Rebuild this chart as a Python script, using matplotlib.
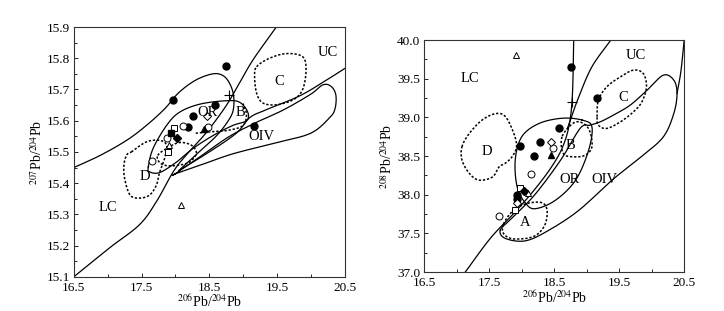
import numpy as np
import matplotlib
matplotlib.use("Agg")
import matplotlib.pyplot as plt
from matplotlib.ticker import MultipleLocator

plt.rcParams["font.family"] = ["Liberation Serif", "DejaVu Serif"]
plt.rcParams["mathtext.fontset"] = "stix"

# ---- left panel: 207Pb/204Pb vs 206Pb/204Pb ----
L_upper = [(16.5, 15.45), (16.9, 15.49), (17.3, 15.54), (17.6, 15.59), (17.85, 15.64),
           (18.05, 15.69), (18.3, 15.73), (18.55, 15.75), (18.7, 15.745), (18.8, 15.72),
           (18.86, 15.68), (18.85, 15.63), (18.75, 15.59), (18.6, 15.55), (18.4, 15.51),
           (18.2, 15.47), (18.05, 15.44)]
L_lower = [(16.5, 15.1), (17.03, 15.193), (17.47, 15.267), (17.72, 15.341), (17.97, 15.437),
           (18.16, 15.49), (18.46, 15.563), (18.75, 15.648), (18.95, 15.722), (19.15, 15.796),
           (19.49, 15.9)]
L_uc = [(18.05, 15.44), (18.5, 15.5), (18.9, 15.56), (19.1, 15.61), (19.34, 15.635),
        (19.84, 15.68), (20.23, 15.73), (20.5, 15.767)]
L_oiv = [(18.0, 15.43), (18.36, 15.457), (18.85, 15.494), (19.5, 15.53), (20.0, 15.56),
         (20.28, 15.61), (20.36, 15.64), (20.37, 15.683), (20.3, 15.71), (20.18, 15.715),
         (20.0, 15.685), (19.6, 15.635), (19.2, 15.595), (18.8, 15.55), (18.4, 15.49),
         (18.0, 15.43)]
L_or = [(17.60, 15.452), (17.67, 15.511), (17.87, 15.585), (18.06, 15.627), (18.36, 15.653),
        (18.75, 15.664), (18.95, 15.659), (19.07, 15.627), (19.05, 15.60), (18.85, 15.585),
        (18.56, 15.553), (18.26, 15.511), (18.02, 15.468), (17.77, 15.434), (17.62, 15.436)]
L_D = [(17.35, 15.50), (17.57, 15.532), (17.77, 15.537), (17.87, 15.521), (17.84, 15.479),
       (17.77, 15.437), (17.72, 15.394), (17.62, 15.362), (17.47, 15.352), (17.33, 15.362),
       (17.25, 15.415), (17.24, 15.458), (17.28, 15.49)]
L_A = [(17.74, 15.489), (17.87, 15.511), (18.06, 15.530), (18.24, 15.521), (18.31, 15.495),
       (18.21, 15.468), (18.06, 15.458), (17.87, 15.456), (17.76, 15.468)]
L_C = [(19.20, 15.773), (19.39, 15.80), (19.64, 15.815), (19.88, 15.805), (19.93, 15.762),
       (19.88, 15.70), (19.74, 15.667), (19.49, 15.651), (19.29, 15.657), (19.2, 15.688),
       (19.17, 15.741)]
L_B = [(18.3, 15.56), (18.55, 15.565), (18.8, 15.57), (19.0, 15.585), (19.05, 15.62),
       (19.0, 15.655)]

L_labels = [("UC", 20.25, 15.82), ("C", 19.54, 15.727), ("B", 18.96, 15.627),
            ("OR", 18.48, 15.627), ("OIV", 19.27, 15.548), ("D", 17.55, 15.42),
            ("LC", 17.0, 15.322)]

L_fcirc_x = [17.97, 18.75, 18.58, 18.26, 18.18, 19.16]
L_fcirc_y = [15.667, 15.775, 15.65, 15.614, 15.581, 15.583]
L_ocirc_x = [18.11, 18.48, 17.65, 17.87]
L_ocirc_y = [15.584, 15.579, 15.470, 15.544]
L_fsq = ([17.94], [15.561])
L_osq = ([17.98, 17.89], [15.576, 15.50])
L_fdia = ([18.03], [15.544])
L_odia = ([18.46], [15.616])
L_ftri = ([18.43], [15.574])
L_otri = ([18.09, 17.91], [15.329, 15.521])
L_plus = ([18.79], [15.683])

# ---- right panel: 208Pb/204Pb vs 206Pb/204Pb ----
R_lc = [(17.13, 37.0), (17.52, 37.44), (17.9, 37.78), (18.2, 38.07), (18.45, 38.35),
        (18.62, 38.6), (18.73, 38.9), (18.78, 39.3), (18.8, 40.0)]
R_uc = [(19.37, 40.0), (19.08, 39.655), (18.88, 39.27), (18.75, 38.97), (18.70, 38.85)]
R_or = [(18.93, 38.966), (19.08, 38.879), (19.03, 38.578), (18.83, 38.19), (18.52, 37.93),
        (18.21, 37.82), (18.06, 37.89), (17.93, 38.10), (17.9, 38.45), (18.0, 38.75),
        (18.26, 38.92), (18.62, 38.99)]
R_oiv = [(17.67, 37.543), (17.75, 37.435), (18.06, 37.405), (18.42, 37.543), (18.88, 37.80),
         (19.39, 38.19), (19.85, 38.5), (20.18, 38.75), (20.34, 39.05), (20.39, 39.31),
         (20.34, 39.483), (20.18, 39.547), (19.93, 39.353), (19.67, 39.16), (19.41, 39.03),
         (19.21, 38.944), (19.05, 38.90), (18.9, 38.86), (18.6, 38.45), (18.2, 38.0),
         (17.85, 37.7)]
R_edge = [(20.39, 39.31), (20.45, 39.6), (20.5, 40.0)]
R_D = [(17.08, 38.62), (17.19, 38.79), (17.39, 38.966), (17.60, 39.05), (17.75, 39.01),
       (17.88, 38.79), (17.92, 38.62), (17.85, 38.49), (17.75, 38.41), (17.65, 38.36),
       (17.55, 38.23), (17.34, 38.19), (17.19, 38.28), (17.08, 38.45)]
R_C = [(19.16, 39.009), (19.18, 39.224), (19.31, 39.397), (19.52, 39.526), (19.72, 39.612),
       (19.87, 39.569), (19.92, 39.397), (19.85, 39.203), (19.72, 39.073), (19.52, 38.944),
       (19.31, 38.858), (19.18, 38.90)]
R_A = [(17.72, 37.62), (17.85, 37.78), (18.05, 37.88), (18.3, 37.9), (18.39, 37.8),
       (18.35, 37.6), (18.18, 37.46), (17.87, 37.43), (17.72, 37.5)]
R_B = [(18.62, 38.75), (18.64, 38.534), (18.80, 38.491), (18.98, 38.513), (19.08, 38.62),
       (19.05, 38.815), (18.95, 38.922), (18.80, 38.93)]

R_labels = [("UC", 19.75, 39.806), ("LC", 17.21, 39.5), ("C", 19.56, 39.26),
            ("D", 17.47, 38.556), ("B", 18.75, 38.64), ("OR", 18.74, 38.2),
            ("OIV", 19.27, 38.2), ("A", 18.05, 37.64)]

R_fcirc_x = [18.76, 19.16, 18.58, 18.28, 17.98, 18.19, 17.93, 17.92]
R_fcirc_y = [39.655, 39.254, 38.866, 38.685, 38.634, 38.50, 37.996, 37.95]
R_ocirc_x = [18.48, 18.14, 17.65]
R_ocirc_y = [38.61, 38.263, 37.72]
R_osq = ([17.98, 17.9], [38.09, 37.80])
R_fdia = ([18.04], [38.047])
R_odia = ([18.45, 17.93], [38.685, 37.89])
R_ftri = ([18.45], [38.513])
R_otri = ([17.905, 18.1], [39.806, 38.017])
R_plus = ([18.78], [39.20])


def smooth_closed(pts, n=12):
    # periodic Catmull-Rom through the outline vertices
    p = np.array(pts, dtype=float)
    out = []
    m = len(p)
    for i in range(m):
        p0, p1, p2, p3 = p[i - 1], p[i], p[(i + 1) % m], p[(i + 2) % m]
        for t in np.linspace(0, 1, n, endpoint=False):
            t2, t3 = t * t, t * t * t
            out.append(0.5 * ((2 * p1) + (-p0 + p2) * t + (2 * p0 - 5 * p1 + 4 * p2 - p3) * t2
                              + (-p0 + 3 * p1 - 3 * p2 + p3) * t3))
    out.append(out[0])
    return np.array(out)


def smooth_open(pts, n=12):
    p = np.array(pts, dtype=float)
    p = np.vstack([2 * p[0] - p[1], p, 2 * p[-1] - p[-2]])
    out = []
    for i in range(1, len(p) - 2):
        p0, p1, p2, p3 = p[i - 1], p[i], p[i + 1], p[i + 2]
        for t in np.linspace(0, 1, n, endpoint=False):
            t2, t3 = t * t, t * t * t
            out.append(0.5 * ((2 * p1) + (-p0 + p2) * t + (2 * p0 - 5 * p1 + 4 * p2 - p3) * t2
                              + (-p0 + 3 * p1 - 3 * p2 + p3) * t3))
    out.append(p[-2])
    return np.array(out)


SOLID = dict(color="black", lw=0.9)
DASH = dict(color="black", lw=1.1, linestyle=(0, (1.5, 1.2)))


def draw_markers(ax, fc, oc, fsq, osq, fdia, odia, ftri, otri, plus):
    ms = 5
    ax.plot(fc[0], fc[1], "o", ms=ms, color="black", ls="none", zorder=5)
    ax.plot(oc[0], oc[1], "o", ms=ms, mfc="white", mec="black", mew=0.7, ls="none", zorder=5)
    ax.plot(*osq, "s", ms=ms, mfc="white", mec="black", mew=0.7, ls="none", zorder=5)
    if fsq:
        ax.plot(*fsq, "s", ms=ms, color="black", ls="none", zorder=6)
    ax.plot(*fdia, "D", ms=4, color="black", ls="none", zorder=6)
    ax.plot(*odia, "D", ms=4, mfc="white", mec="black", mew=0.7, ls="none", zorder=5)
    ax.plot(*ftri, "^", ms=ms, color="black", ls="none", zorder=6)
    ax.plot(*otri, "^", ms=ms, mfc="white", mec="black", mew=0.7, ls="none", zorder=5)
    ax.plot(*plus, "+", ms=7, color="black", mew=0.8, ls="none", zorder=6)


def style_axes(ax, ylim, ymaj, ymin, ylabel):
    ax.set_xlim(16.5, 20.5)
    ax.set_ylim(*ylim)
    ax.xaxis.set_minor_locator(MultipleLocator(0.5))
    ax.yaxis.set_major_locator(MultipleLocator(ymaj))
    ax.yaxis.set_minor_locator(MultipleLocator(ymin))
    ax.set_xticks(np.arange(16.5, 20.6, 1.0))
    ax.set_xticklabels(["16.5", "17.5", "18.5", "19.5", "20.5"])
    ax.yaxis.set_major_formatter(plt.FormatStrFormatter("%.1f"))
    ax.tick_params(which="both", direction="in", labelsize=9.5, length=3, width=0.6)
    ax.tick_params(axis="x", pad=3.5)
    ax.tick_params(axis="y", pad=3)
    ax.tick_params(which="minor", length=2)
    for s in ax.spines.values():
        s.set_linewidth(0.8)
        s.set_color("#333333")
    ax.set_xlabel(r"$^{206}$Pb/$^{204}$Pb", fontsize=10, labelpad=0)
    ax.set_ylabel(ylabel, fontsize=10, labelpad=1)


fig = plt.figure(figsize=(7.24, 3.11), dpi=100)
axL = fig.add_axes([0.102, 0.11, 0.374, 0.803])
axR = fig.add_axes([0.586, 0.125, 0.359, 0.746])

# left panel
for pts in (L_upper, L_lower, L_uc):
    c = smooth_open(pts)
    axL.plot(c[:, 0], c[:, 1], **SOLID)
for pts in (L_oiv, L_or):
    c = smooth_closed(pts)
    axL.plot(c[:, 0], c[:, 1], **SOLID)
for pts in (L_D, L_A, L_C):
    c = smooth_closed(pts)
    axL.plot(c[:, 0], c[:, 1], **DASH)
c = smooth_open(L_B)
axL.plot(c[:, 0], c[:, 1], **DASH)
for txt, x, y in L_labels:
    axL.text(x, y, txt, fontsize=10.5, ha="center", va="center", zorder=7)
draw_markers(axL, (L_fcirc_x, L_fcirc_y), (L_ocirc_x, L_ocirc_y), L_fsq, L_osq,
             L_fdia, L_odia, L_ftri, L_otri, L_plus)
style_axes(axL, (15.1, 15.9), 0.1, 0.05, r"$^{207}$Pb/$^{204}$Pb")

# right panel
for pts in (R_lc, R_uc, R_edge):
    c = smooth_open(pts)
    axR.plot(c[:, 0], c[:, 1], **SOLID)
for pts in (R_or, R_oiv):
    c = smooth_closed(pts)
    axR.plot(c[:, 0], c[:, 1], **SOLID)
for pts in (R_D, R_C, R_A, R_B):
    c = smooth_closed(pts)
    axR.plot(c[:, 0], c[:, 1], **DASH)
for txt, x, y in R_labels:
    axR.text(x, y, txt, fontsize=10.5, ha="center", va="center", zorder=7)
draw_markers(axR, (R_fcirc_x, R_fcirc_y), (R_ocirc_x, R_ocirc_y), None, R_osq,
             R_fdia, R_odia, R_ftri, R_otri, R_plus)
style_axes(axR, (37.0, 40.0), 0.5, 0.25, r"$^{208}$Pb/$^{204}$Pb")

fig.savefig("out.png", dpi=100)
